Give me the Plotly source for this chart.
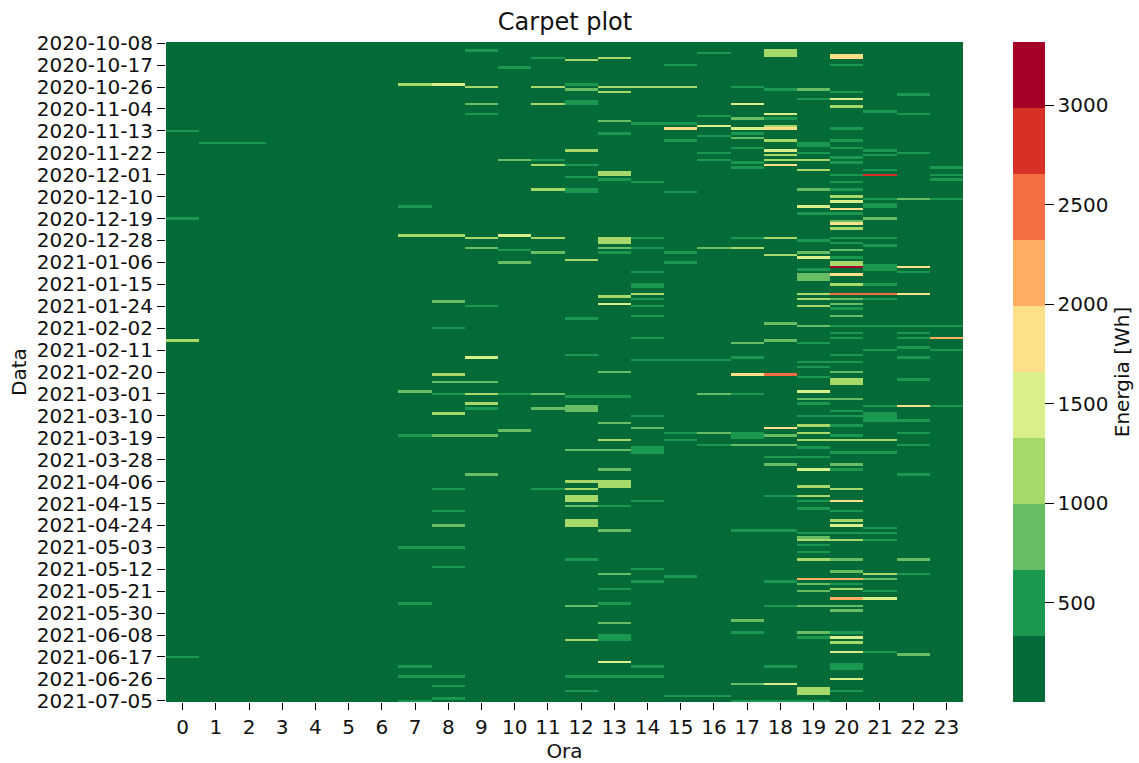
import pandas as pd
import numpy as np
import plotly.graph_objects as go

start_date = "2020-10-08"
n_days = 271
hours = list(range(24))
base_wh = 100
z_min = 0
z_max = 3317
tick_step = 9
band_colors = ["#046a38", "#1a9850", "#66bd63", "#a6d96a", "#d9ef8b",
               "#fee08b", "#fdae61", "#f46d43", "#d73027", "#a50026"]
cbar_ticks = [500, 1000, 1500, 2000, 2500, 3000]

h00_days = [36, 72, 122, 252]
h00_wh = [350, 350, 1300, 500]
h01_days = [41]
h01_wh = [400]
h02_days = [41]
h02_wh = [400]
h07_days = [17, 67, 79, 143, 161, 207, 230, 256, 260, 270]
h07_wh = [1300, 350, 1300, 800, 350, 350, 350, 350, 400, 350]
h08_days = [17, 79, 106, 117, 136, 139, 144, 152, 161, 183, 192, 198, 207, 215, 260, 264, 269]
h08_wh = [1500, 1000, 800, 500, 1000, 800, 400, 1200, 700, 600, 350, 700, 350, 400, 400, 350, 400]
h09_days = [3, 18, 25, 29, 80, 84, 108, 129, 139, 144, 148, 150, 161, 177]
h09_wh = [350, 1100, 900, 350, 1300, 800, 500, 1500, 800, 1300, 1000, 400, 800, 900]
h10_days = [10, 48, 79, 85, 90, 144, 159]
h10_wh = [350, 800, 1400, 500, 800, 500, 900]
h11_days = [6, 18, 25, 48, 50, 60, 80, 86, 144, 150, 183]
h11_wh = [350, 1000, 1000, 350, 1000, 1300, 1000, 800, 900, 800, 350]
h12_days = [7, 17, 19, 24, 25, 44, 50, 55, 60, 61, 89, 113, 128, 145, 149, 150, 151, 167, 180, 183,
            186, 187, 188, 190, 196, 197, 198, 212, 231, 245, 260, 266]
h12_wh = [1100, 350, 800, 500, 500, 1100, 400, 350, 350, 350, 1300, 350, 350, 350, 900, 900, 900, 800, 1000, 1000,
          1200, 1200, 1200, 900, 1000, 1000, 1000, 350, 800, 1000, 350, 350]
h13_days = [6, 18, 20, 32, 37, 53, 54, 56, 80, 81, 82, 84, 86, 104, 107, 135, 145, 156, 163, 167, 175,
            180, 181, 182, 190, 200, 218, 224, 230, 238, 243, 244, 245, 254, 260]
h13_wh = [1200, 1300, 1300, 800, 350, 1100, 1000, 350, 1000, 1000, 1000, 800, 400, 1100, 1600, 800, 350, 900, 1000, 800, 800,
          1200, 1200, 1200, 350, 800, 900, 400, 400, 900, 500, 500, 500, 1500, 350]
h14_days = [18, 33, 57, 80, 84, 94, 99, 100, 103, 105, 108, 112, 121, 130, 153, 158, 166, 167, 168, 188, 216, 221, 256, 260]
h14_wh = [1300, 350, 400, 350, 350, 400, 500, 500, 1200, 500, 350, 350, 350, 350, 350, 800, 500, 500, 500, 350, 350, 350, 350, 350]
h15_days = [9, 18, 33, 35, 40, 61, 86, 90, 130, 160, 163, 219, 268]
h15_wh = [350, 1300, 350, 1700, 350, 350, 350, 350, 350, 350, 350, 350, 350]
h16_days = [4, 30, 34, 38, 45, 48, 84, 130, 144, 160, 165, 268]
h16_wh = [350, 400, 1500, 350, 400, 400, 800, 350, 800, 800, 350, 350]
h17_days = [18, 25, 31, 35, 37, 39, 43, 49, 51, 80, 84, 123, 129, 136, 144, 160, 161, 162, 165, 200, 237, 242, 263, 270]
h17_wh = [350, 1400, 800, 1600, 500, 800, 400, 400, 400, 350, 1200, 800, 400, 1700, 350, 500, 500, 500, 800, 350, 800, 400, 900, 500]
h18_days = [3, 4, 5, 19, 29, 31, 34, 35, 40, 44, 46, 48, 50, 80, 87, 115, 122, 136, 158, 161, 165, 170, 173, 186, 200, 221, 231, 256, 263, 270]
h18_wh = [1000, 1000, 1000, 350, 1500, 400, 1000, 1700, 1000, 1400, 1100, 1000, 1800, 1100, 1000, 800, 800, 2500, 1700, 800, 700, 400, 800, 350, 350, 350, 350, 350, 1500, 500]
h19_days = [19, 23, 41, 42, 45, 48, 52, 60, 67, 70, 81, 86, 88, 93, 95, 96, 97, 103, 105, 108, 116, 123, 131, 133, 137, 143, 146, 148, 153,
            157, 160, 163, 166, 170, 175, 182, 186, 188, 191, 201, 203, 204, 206, 209, 212, 220, 222, 225, 231, 242, 244, 265, 266, 267, 270]
h19_wh = [800, 350, 400, 400, 500, 1000, 1000, 900, 1400, 400, 400, 800, 1600, 500, 900, 900, 900, 1200, 1300, 1300, 800, 400, 400, 350, 350, 1400, 800, 400, 400,
          1300, 1000, 1100, 400, 400, 1500, 1000, 1000, 400, 500, 350, 800, 1100, 350, 400, 1000, 2100, 800, 900, 800, 900, 400, 1200, 1200, 1200, 500]
h20_days = [5, 6, 9, 20, 23, 26, 35, 40, 43, 47, 49, 54, 57, 60, 63, 65, 68, 70, 73, 74, 76, 80, 82, 85, 88, 90, 91, 92, 95, 99, 103, 105, 107, 109, 112,
            116, 119, 121, 128, 131, 135, 138, 139, 140, 146, 151, 153, 157, 161, 163, 168, 173, 175, 183, 188, 192, 196, 198, 201, 204, 212, 217, 220, 222,
            224, 228, 231, 233, 242, 244, 246, 250, 255, 256, 257, 261, 266]
h20_wh = [1700, 1700, 400, 600, 1500, 1200, 400, 400, 400, 400, 400, 350, 350, 400, 1100, 1500, 1700, 350, 800, 1700, 1000, 500, 400, 800, 500, 1000, 1000, 3100, 1700, 1000, 2500, 800, 800, 500, 800,
          350, 350, 350, 350, 600, 800, 1100, 1100, 1100, 800, 350, 400, 500, 400, 1300, 350, 800, 500, 1000, 1700, 400, 1300, 1500, 400, 1100, 900, 800, 2000, 400,
          1100, 2100, 800, 900, 500, 1400, 1000, 1400, 500, 500, 500, 1400, 500]
h21_days = [28, 44, 46, 52, 54, 64, 66, 67, 72, 80, 83, 91, 92, 93, 99, 103, 105, 116, 126, 149, 152, 153, 154, 155, 163, 168, 199, 201, 204, 218, 220, 225, 228, 250]
h21_wh = [350, 350, 350, 400, 2800, 350, 500, 400, 800, 350, 500, 500, 500, 500, 350, 2600, 500, 350, 350, 500, 500, 500, 500, 500, 1000, 350, 350, 350, 350, 1000, 900, 350, 1600, 350]
h22_days = [21, 29, 45, 64, 92, 94, 103, 116, 119, 121, 125, 129, 138, 149, 155, 160, 165, 177, 212, 218, 251]
h22_wh = [350, 350, 400, 800, 1700, 350, 1800, 350, 350, 400, 350, 350, 350, 1900, 350, 350, 350, 350, 900, 350, 800]
h23_days = [51, 54, 56, 64, 116, 121, 126, 149]
h23_wh = [350, 350, 350, 400, 350, 2100, 350, 350]

hour_events = {
    0: (h00_days, h00_wh), 1: (h01_days, h01_wh), 2: (h02_days, h02_wh),
    7: (h07_days, h07_wh), 8: (h08_days, h08_wh), 9: (h09_days, h09_wh),
    10: (h10_days, h10_wh), 11: (h11_days, h11_wh), 12: (h12_days, h12_wh),
    13: (h13_days, h13_wh), 14: (h14_days, h14_wh), 15: (h15_days, h15_wh),
    16: (h16_days, h16_wh), 17: (h17_days, h17_wh), 18: (h18_days, h18_wh),
    19: (h19_days, h19_wh), 20: (h20_days, h20_wh), 21: (h21_days, h21_wh),
    22: (h22_days, h22_wh), 23: (h23_days, h23_wh),
}

z = np.full((n_days, 24), float(base_wh))
for hour, (days, whs) in hour_events.items():
    for d, wh in zip(days, whs):
        z[d, hour] = wh

dates = pd.date_range(start_date, periods=n_days).strftime("%Y-%m-%d").tolist()
tick_idx = list(range(0, n_days, tick_step))
tick_text = [dates[i] for i in tick_idx]

colorscale = []
for i, c in enumerate(band_colors):
    colorscale.append([i / len(band_colors), c])
    colorscale.append([(i + 1) / len(band_colors), c])

FONT = "DejaVu Sans"
fig = go.Figure(go.Heatmap(
    z=z, x=hours, y=list(range(n_days)),
    zmin=z_min, zmax=z_max, colorscale=colorscale, zsmooth=False, xgap=0, ygap=0,
    customdata=[[d] * 24 for d in dates],
    hovertemplate="Data %{customdata}<br>Ora %{x}<br>%{z} Wh<extra></extra>",
    colorbar=dict(
        x=1013 / 1139, xanchor="left", xref="container", xpad=0, ypad=0, y=0.5, yanchor="middle",
        len=1, lenmode="fraction", thickness=32, thicknessmode="pixels",
        outlinewidth=0, tickvals=cbar_ticks, ticks="outside", ticklen=9, tickwidth=1,
        tickcolor="black", tickfont=dict(family=FONT, size=20, color="#111"),
        title=dict(text="Energia [Wh]", side="right", font=dict(family=FONT, size=20, color="#111")),
    ),
))
fig.update_layout(
    width=1139, height=763, autosize=False,
    margin=dict(l=166, r=176, t=42, b=61, pad=0),
    paper_bgcolor="white", plot_bgcolor="white",
    font=dict(family=FONT, color="#111"),
    title=dict(text="Carpet plot", x=565 / 1139, xanchor="center", y=1 - 22 / 763, yanchor="middle",
               font=dict(family=FONT, size=24, color="#111")),
    xaxis=dict(title=dict(text="Ora", font=dict(family=FONT, size=20), standoff=10),
               automargin=False,
               tickvals=hours, range=[-0.5, 23.5], ticks="outside", ticklen=7, tickwidth=1,
               tickcolor="black", tickangle=0, tickfont=dict(family=FONT, size=20),
               showgrid=False, zeroline=False, showline=False),
    yaxis=dict(title=dict(text="Data", font=dict(family=FONT, size=20), standoff=4),
               automargin=False,
               tickvals=tick_idx, ticktext=tick_text, range=[n_days - 0.5, -0.5],
               ticks="outside", ticklen=8, tickwidth=1, tickcolor="black", tickangle=0,
               tickfont=dict(family=FONT, size=20),
               showgrid=False, zeroline=False, showline=False),
)
fig.write_html("out.html", config={"displayModeBar": False},
               post_script="document.body.style.margin='0';")
